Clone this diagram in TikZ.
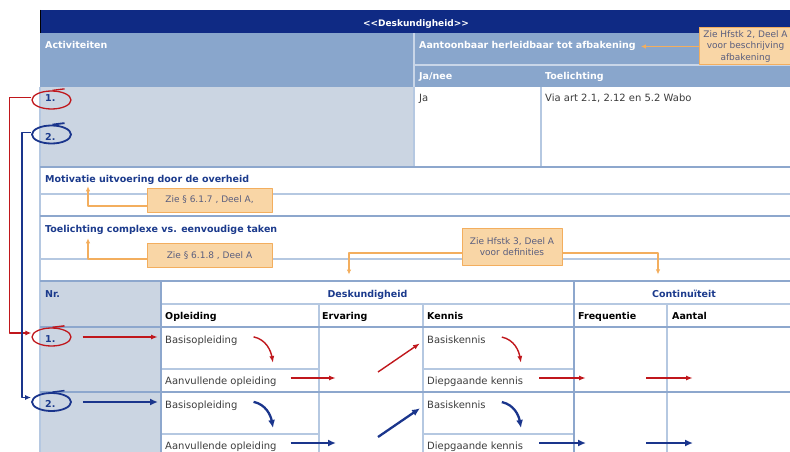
\documentclass[tikz,border=0pt]{standalone}
\usepackage{fontspec}
\setmainfont{DejaVu Sans}
\usetikzlibrary{positioning,shapes.geometric,arrows.meta}

\definecolor{navy}{HTML}{0F2A84}
\definecolor{headblue}{HTML}{89A6CC}
\definecolor{greyblue}{HTML}{CBD5E2}
\definecolor{gridmid}{HTML}{8DA7CD}
\definecolor{gridlight}{HTML}{B5C8E1}
\definecolor{gridpale}{HTML}{C9D6E8}
\definecolor{textblue}{HTML}{1B3A8C}
\definecolor{markred}{HTML}{C0171C}
\definecolor{markblue}{HTML}{1A358C}
\definecolor{notefill}{HTML}{F9D6A6}
\definecolor{noteline}{HTML}{F3AE5E}
\definecolor{notetext}{HTML}{5A5E7E}
\definecolor{bodytext}{HTML}{3C3C3C}

\tikzset{
  hdr/.style={anchor=base west, inner sep=0pt, font=\bfseries\fontsize{9.5}{11}\selectfont},
  whitehead/.style={hdr, text=white},
  bluehead/.style={hdr, text=textblue},
  blackhead/.style={hdr, text=black},
  cell/.style={anchor=base west, inner sep=0pt, text=bodytext, font=\fontsize{10}{12}\selectfont},
  numtxt/.style={bluehead},
  note/.style={draw=noteline, fill=notefill, line width=1pt, text=notetext,
    font=\fontsize{9}{11.5}\selectfont, align=center, inner sep=2pt},
  notelink/.style={draw=noteline, line width=1.3pt, -{Latex[length=5pt,width=4.5pt]}},
  gmid/.style={draw=gridmid, line width=2pt},
  glight/.style={draw=gridlight, line width=1.3pt},
  gpale/.style={draw=gridpale, line width=1.3pt},
  redring/.style={ellipse, draw=markred, line width=1.3pt, minimum width=39pt, minimum height=18pt, inner sep=0pt},
  bluering/.style={ellipse, draw=markblue, line width=1.8pt, minimum width=39pt, minimum height=18pt, inner sep=0pt},
  redflow/.style={draw=markred, line width=1.4pt, -{Latex[length=7pt,width=5pt]}},
  blueflow/.style={draw=markblue, line width=2.3pt, -{Latex[length=8pt,width=7pt]}},
  redlink/.style={draw=markred, line width=1.5pt, -{Latex[length=6pt,width=5pt]}},
  bluelink/.style={draw=markblue, line width=1.5pt, -{Latex[length=6pt,width=5pt]}},
}

\begin{document}
\begin{tikzpicture}[x=1pt, y=-1pt, line join=round]
  \useasboundingbox (0,0) rectangle (790,452);
  \clip (0,0) rectangle (790,452);

  % header bands
  \fill[navy] (40,10) rectangle (790,33);
  \draw[black, line width=1pt] (40.5,10) -- (40.5,33);
  \fill[headblue] (40,33) rectangle (790,87);
  \fill[greyblue] (40,87) rectangle (414,167);
  \fill[greyblue] (40,281) rectangle (161,452);

  % grid
  \draw[gpale] (414,33) -- (414,87) (414,65) -- (790,65);
  \draw[glight] (414,87) -- (414,167) (541,87) -- (541,167);
  \draw[glight] (40,87) -- (40,452);
  \draw[gmid] (40,167) -- (790,167);
  \draw[glight] (40,194) -- (790,194);
  \draw[gmid] (40,216) -- (790,216);
  \draw[glight] (40,259) -- (790,259);
  \draw[glight] (161,304) -- (790,304);
  \draw[glight] (319,304) -- (319,452) (423,304) -- (423,452) (667,304) -- (667,452);
  \draw[glight] (161,369) -- (319,369) (423,369) -- (574,369);
  \draw[glight] (161,434) -- (319,434) (423,434) -- (574,434);
  \draw[gmid] (40,281) -- (790,281);
  \draw[gmid] (40,327) -- (790,327);
  \draw[gmid] (40,392) -- (790,392);
  \draw[gmid] (161,281) -- (161,452) (574,281) -- (574,452);

  % headings
  \node[hdr, anchor=base, text=white, font=\bfseries\fontsize{9}{11}\selectfont] (title) at (416,27) {<\kern0pt<Deskundigheid>\kern0pt>};
  \node[whitehead] (hAct) at (45,49) {Activiteiten};
  \node[whitehead] (hAfb) at (419,49) {Aantoonbaar herleidbaar tot afbakening};
  \node[whitehead] (hJa) at (419,80) {Ja/nee};
  \node[whitehead] (hToel) at (545,80) {Toelichting};
  \node[cell] (ja) at (419,102) {Ja};
  \node[cell] (via) at (545,102) {Via art 2.1, 2.12 en 5.2 Wabo};
  \node[bluehead] (hMot) at (45,182) {Motivatie uitvoering door de overheid};
  \node[bluehead] (hTol) at (45,232) {Toelichting complexe vs. eenvoudige taken};
  \node[bluehead] (hNr) at (45,297) {Nr.};
  \node[bluehead, anchor=base] (hDesk) at (367.5,297) {Deskundigheid};
  \node[bluehead, anchor=base] (hCont) at (684,297) {Continuïteit};
  \node[blackhead] (hOpl) at (165,319) {Opleiding};
  \node[blackhead] (hErv) at (322,319) {Ervaring};
  \node[blackhead] (hKen) at (427,319) {Kennis};
  \node[blackhead] (hFreq) at (578,319) {Frequentie};
  \node[blackhead] (hAant) at (672,319) {Aantal};

  % activity numbers
  \node[numtxt] (top1) at (45,101) {1.};
  \node[numtxt] (top2) at (45,140.5) {2.};
  \node[redring] (ringtop1) at (51.5,100) {};
  \node[bluering] (ringtop2) at (51.5,134.5) {};
  \draw[markred, line width=1.3pt] ([xshift=1pt]ringtop1.north) -- ++(12,-1.5);
  \draw[markblue, line width=1.8pt] ([xshift=1pt]ringtop2.north) -- ++(12,-1.5);

  % table rows
  \foreach \r/\dy/\flow/\ring/\col in {1/0/redflow/redring/markred, 2/65/blueflow/bluering/markblue} {
    \begin{scope}[yshift=-\dy pt]
      \node[numtxt] (nr\r) at (45,342.5) {\r.};
      \node[\ring] (ring\r) at (51.5,337) {};
      \draw[\col, line width=1.5pt] ([xshift=1pt]ring\r.north) -- ++(12,-1.5);
      \node[cell] (bo\r) at (165,343) {Basisopleiding};
      \node[cell] (ao\r) at (165,384) {Aanvullende opleiding};
      \node[cell] (bk\r) at (427,343) {Basiskennis};
      \node[cell] (dk\r) at (427,384) {Diepgaande kennis};
      \coordinate (bodn\r) at (273,363);
      \coordinate (bkdn\r) at (521,363);
      \coordinate (erv\r) at (336,378);
      \coordinate (ervs\r) at (378,372);
      \coordinate (freq\r) at (586,378);
      \coordinate (aants\r) at (646,378);
      \coordinate (aant\r) at (693,378);
      \draw[\flow, shorten <=11pt, shorten >=7pt] (ring\r.east) -- (bo\r.west |- ring\r.east);
      \draw[\flow] ([xshift=16pt,yshift=3.4pt]bo\r.east) to[out=-12,in=100] (bodn\r);
      \draw[\flow] ([xshift=14pt]ao\r.east |- erv\r) -- (erv\r);
      \draw[\flow] (ervs\r) -- ([xshift=-7pt,yshift=-4pt]bk\r.west);
      \draw[\flow] ([xshift=16pt,yshift=2.2pt]bk\r.east) to[out=-12,in=100] (bkdn\r);
      \draw[\flow] ([xshift=16pt]dk\r.east |- freq\r) -- (freq\r);
      \draw[\flow] (aants\r) -- (aant\r);
    \end{scope}
  }

  % links from activity to row
  \draw[redlink] ([yshift=2.5pt]ringtop1.west) -- ++(-22,0) |- ([yshift=4pt]ring1.west);
  \draw[bluelink] ([yshift=2pt]ringtop2.west) -- ++(-9,0) |- ([yshift=4.5pt]ring2.west);

  % notes
  \node[note, minimum width=93pt, minimum height=37pt] (nAfb) at (745.5,46.5) {Zie Hfstk 2, Deel A\\voor beschrijving\\afbakening};
  \node[note, minimum width=125pt, minimum height=24pt] (n617) at (209.5,200) {Zie § 6.1.7 , Deel A,};
  \node[note, minimum width=125pt, minimum height=24pt] (n618) at (209.5,255.5) {Zie § 6.1.8 , Deel A};
  \node[note, minimum width=100pt, minimum height=37pt] (nDef) at (512,246.5) {Zie Hfstk 3, Deel A\\voor definities};
  \draw[notelink, shorten >=5pt] (nAfb.west) -- (hAfb.east |- nAfb.west);
  \draw[notelink] ([yshift=-6pt]n617.west) -| ([xshift=43pt,yshift=-2pt]hMot.south west);
  \draw[notelink] ([yshift=-3.5pt]n618.west) -| ([xshift=43pt,yshift=-4pt]hTol.south west);
  \draw[notelink] ([yshift=-6.5pt]nDef.west) -| ([xshift=-18.5pt,yshift=15pt]hDesk.north);
  \draw[notelink] ([yshift=-6.5pt]nDef.east) -| ([xshift=-26pt,yshift=15pt]hCont.north);
\end{tikzpicture}
\end{document}
